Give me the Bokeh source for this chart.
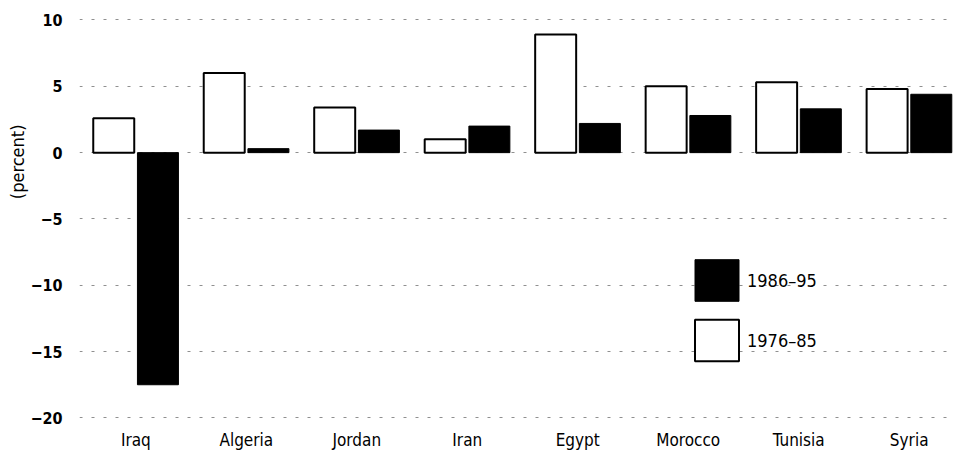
from bokeh.plotting import figure
from bokeh.models import ColumnDataSource, Range1d, Legend, LegendItem, FixedTicker, Title
from bokeh.transform import dodge
from bokeh.embed import file_html
from bokeh.resources import INLINE

countries = ["Iraq", "Algeria", "Jordan", "Iran", "Egypt", "Morocco", "Tunisia", "Syria"]
growth_1976_85 = [2.6, 6.0, 3.4, 1.0, 8.9, 5.0, 5.3, 4.8]
growth_1986_95 = [-17.5, 0.3, 1.7, 2.0, 2.2, 2.8, 3.3, 4.4]
y_ticks = [-20, -15, -10, -5, 0, 5, 10]
label_1976 = "1976\u201385"
label_1986 = "1986\u201395"
y_title = "(percent)"

FONT = "'DejaVu Sans Condensed', 'Liberation Sans Narrow', sans-serif"

pos = list(range(len(countries)))
src = ColumnDataSource(dict(pos=pos, country=countries, a=growth_1976_85, b=growth_1986_95))

p = figure(x_range=Range1d(-0.51, 7.41), y_range=Range1d(-20.12, 10.64),
           width=954, height=452, output_backend="svg", toolbar_location=None,
           min_border_top=11, min_border_right=0, min_border_bottom=0, min_border_left=79)

r_a = p.vbar(x=dodge("pos", -0.2), top="a", bottom=0, width=0.371,
             source=src, fill_color="white", line_color="black", line_width=2)
r_b = p.vbar(x=dodge("pos", 0.2), top="b", bottom=0, width=0.371,
             source=src, fill_color="black", line_color="black", line_width=1)

p.outline_line_color = None
p.xgrid.grid_line_color = None
p.ygrid.grid_line_color = "#444444"
p.ygrid.grid_line_dash = "3 9"
p.ygrid.grid_line_alpha = 0.6
p.ygrid.ticker = FixedTicker(ticks=y_ticks)

p.yaxis.ticker = FixedTicker(ticks=y_ticks)
p.yaxis.axis_line_color = None
p.yaxis.major_tick_line_color = None
p.yaxis.minor_tick_line_color = None
p.yaxis.major_label_standoff = 11
p.yaxis.major_label_text_font = FONT
p.yaxis.major_label_text_font_size = "16px"
p.yaxis.major_label_text_font_style = "bold"
p.yaxis.major_label_text_color = "black"

p.add_layout(Title(text=y_title, align="right", offset=113, standoff=0,
                   text_font=FONT, text_font_size="18px", text_font_style="normal",
                   text_color="black"), "left")

p.xaxis.ticker = FixedTicker(ticks=pos)
p.xaxis.major_label_overrides = {i: c for i, c in zip(pos, countries)}
p.xaxis.axis_line_color = None
p.xaxis.major_tick_line_color = None
p.xaxis.minor_tick_line_color = None
p.xaxis.major_label_standoff = 4
p.xaxis.major_label_text_font = FONT
p.xaxis.major_label_text_font_size = "17px"
p.xaxis.major_label_text_color = "black"

legend = Legend(items=[LegendItem(label=label_1986, renderers=[r_b]),
                       LegendItem(label=label_1976, renderers=[r_a])],
                location=(610, 53), glyph_width=55, glyph_height=52, spacing=8,
                padding=0, margin=0, label_standoff=3,
                label_text_font=FONT, label_text_font_size="18px",
                label_text_color="black",
                border_line_alpha=0, background_fill_alpha=0)
p.add_layout(legend)

open("out.html", "w").write(file_html(p, INLINE))
